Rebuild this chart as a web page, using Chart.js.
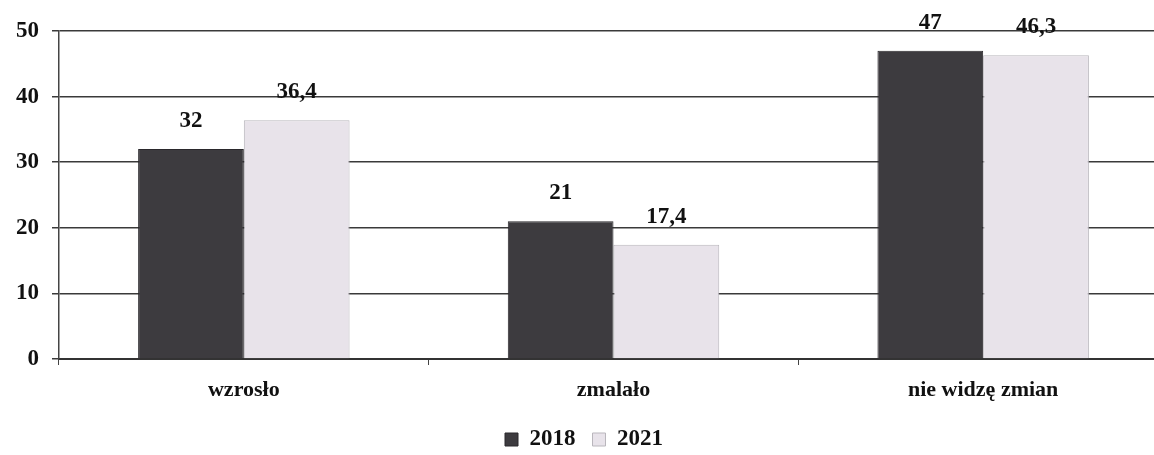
<!DOCTYPE html>
<html>
<head>
<meta charset="utf-8">
<script src="https://cdn.jsdelivr.net/npm/chart.js@4/dist/chart.umd.min.js"></script>
<style>
  html, body { margin: 0; padding: 0; background: #fff; overflow: hidden; }
  #wrap { width: 1168px; height: 455px; }
</style>
</head>
<body>
<div id="wrap"><canvas id="c"></canvas></div>
<script>
const categories = ['wzrosło', 'zmalało', 'nie widzę zmian'];
const values2018 = [32, 21, 47];
const values2021 = [36.4, 17.4, 46.3];
const yTicks = [0, 10, 20, 30, 40, 50];

const serif = "'Liberation Serif', 'DejaVu Serif', serif";

// values above bars, written with a comma like the original
const valueLabels = {
  id: 'valueLabels',
  afterDatasetsDraw(chart) {
    const ctx = chart.ctx;
    ctx.save();
    ctx.font = 'bold 23px ' + serif;
    ctx.fillStyle = '#111';
    ctx.textAlign = 'center';
    ctx.textBaseline = 'middle';
    chart.data.datasets.forEach((ds, i) => {
      chart.getDatasetMeta(i).data.forEach((bar, j) => {
        const txt = String(ds.data[j]).replace('.', ',');
        ctx.fillText(txt, bar.x, bar.y - 28);
      });
    });
    ctx.restore();
  }
};

new Chart(document.getElementById('c'), {
  type: 'bar',
  data: {
    labels: categories,
    datasets: [
      {
        label: '2018',
        data: values2018,
        backgroundColor: '#3d3b3f',
        borderColor: '#2a282c',
        borderWidth: 1
      },
      {
        label: '2021',
        data: values2021,
        backgroundColor: '#e8e3ea',
        borderColor: '#b9b6bc',
        borderWidth: 1
      }
    ]
  },
  options: {
    responsive: true,
    maintainAspectRatio: false,
    animation: false,
    layout: { padding: { top: 31, left: 0, right: 0, bottom: -6 } },
    datasets: {
      bar: { categoryPercentage: 0.572, barPercentage: 1.0 }
    },
    scales: {
      x: {
        afterFit: (s) => { s.height = 52; },
        border: { color: '#333', width: 2 },
        grid: {
          offset: true,
          drawOnChartArea: false,
          color: '#444',
          tickLength: 6
        },
        ticks: {
          color: '#111',
          font: { family: serif, size: 22, weight: 'bold' },
          padding: 12
        }
      },
      y: {
        min: 0,
        max: 50,
        afterFit: (s) => { s.width = 59; },
        afterBuildTicks: (s) => { s.ticks = yTicks.map(v => ({ value: v })); },
        border: { color: '#444', width: 1.5 },
        grid: {
          color: '#3a3a3a',
          lineWidth: 1.5,
          tickLength: 7
        },
        ticks: {
          color: '#111',
          font: { family: serif, size: 23, weight: 'bold' },
          padding: 13
        }
      }
    },
    plugins: {
      legend: {
        display: true,
        position: 'bottom',
        labels: {
          color: '#111',
          font: { family: serif, size: 23, weight: 'bold' },
          boxWidth: 13,
          boxHeight: 13,
          padding: 17
        }
      },
      tooltip: { enabled: false }
    }
  },
  plugins: [valueLabels]
});
</script>
</body>
</html>
